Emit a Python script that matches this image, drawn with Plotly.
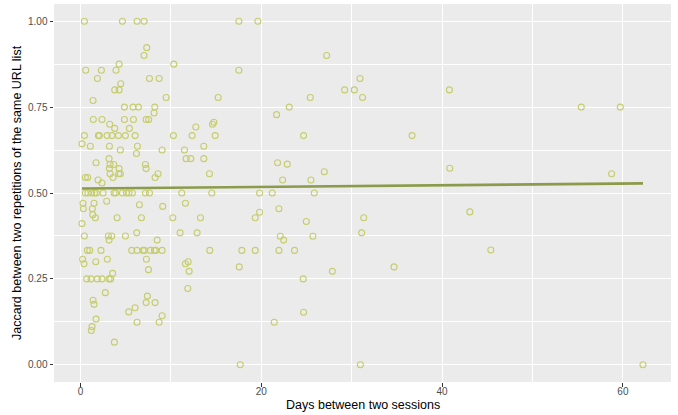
import plotly.graph_objects as go

# ---- data ----
days = [
    0.43, 4.64, 6.26, 7.04, 17.52,
    7.33, 7.03, 4.27, 10.32,
    0.58, 2.31, 3.93, 17.52,
    1.87, 7.63, 8.70, 4.45, 3.79, 4.27,
    9.47, 15.23, 1.39,
    4.86, 5.82, 6.41, 8.22, 8.14,
    1.42, 2.38, 4.86, 5.86, 7.26, 7.55, 3.23,
    14.75, 14.6, 12.76, 3.79, 5.41,
    0.43, 1.98, 2.09, 2.94, 3.49, 4.19, 4.97, 6.04, 10.28, 12.35, 14.9,
    0.17, 1.09, 3.2, 6.3, 13.64,
    4.41, 9.03, 11.5, 6.19,
    3.16, 11.69, 12.2, 13.64, 1.72,
    3.27, 3.67, 7.18, 3.2, 4.27, 7.26,
    3.27, 4.23, 4.41, 8.58, 14.27,
    0.54, 0.80, 3.6, 8.25, 1.94, 2.38,
    0.54, 0.83, 1.24, 1.54, 1.76, 2.5, 3.71, 3.9, 4.64, 5.08, 5.37, 5.74, 7.18, 7.63, 11.2, 14.53,
    0.28, 1.5, 11.61, 2.9, 6.52, 9.1, 0.32, 1.31, 1.35,
    1.65, 4.05, 6.74, 10.21, 13.27, 0.17,
    11.02, 12.9, 6.22, 0.43, 3.09, 3.46, 4.97, 3.16, 8.48,
    0.76, 1.02, 2.27, 5.67, 6.26, 6.93, 7.07, 7.74, 8.18, 8.33, 9.03, 14.3, 17.85,
    0.24, 2.97, 7.29, 1.69, 11.91, 11.61, 0.39, 17.56, 7.52, 12.02, 3.56,
    0.69, 1.17, 1.87, 2.38, 3.16, 3.34,
    11.87, 2.75, 7.4, 1.39, 7.26, 8.25, 1.5, 6.04, 5.34, 9.03, 1.72, 6.26, 8.7, 1.28, 1.2, 3.75, 17.67,
    19.62, 27.23, 30.92, 29.22, 30.29, 25.42, 31.2, 23.09, 21.69, 24.68, 36.68, 40.81,
    21.8, 22.87, 40.85, 26.97, 22.36, 25.49,
    19.81, 21.21, 25.86, 21.95, 19.81, 19.33, 31.33, 24.98, 31.1, 25.71, 22.1, 22.47,
    19.33, 21.95, 23.68, 34.68, 27.86, 24.64, 24.68, 21.43, 30.96,
    55.39, 59.71, 58.75, 43.07, 45.39, 62.22,
]
jaccard = [
    1.0, 1.0, 1.0, 1.0, 1.0,
    0.923, 0.9, 0.875, 0.875,
    0.857, 0.857, 0.857, 0.857,
    0.833, 0.833, 0.833, 0.818, 0.8, 0.8,
    0.778, 0.778, 0.769,
    0.75, 0.75, 0.75, 0.75, 0.733,
    0.714, 0.714, 0.714, 0.714, 0.714, 0.714, 0.7,
    0.706, 0.7, 0.692, 0.688, 0.688,
    0.667, 0.667, 0.667, 0.667, 0.667, 0.667, 0.667, 0.667, 0.667, 0.667, 0.667,
    0.643, 0.636, 0.636, 0.636, 0.636,
    0.625, 0.625, 0.625, 0.615,
    0.6, 0.6, 0.6, 0.6, 0.588,
    0.583, 0.583, 0.583, 0.571, 0.571, 0.571,
    0.556, 0.556, 0.556, 0.556, 0.556,
    0.545, 0.545, 0.545, 0.545, 0.538, 0.529,
    0.5, 0.5, 0.5, 0.5, 0.5, 0.5, 0.5, 0.5, 0.5, 0.5, 0.5, 0.5, 0.5, 0.5, 0.5, 0.5,
    0.47, 0.47, 0.47, 0.476, 0.466, 0.461, 0.454, 0.454, 0.437,
    0.428, 0.428, 0.428, 0.428, 0.428, 0.411,
    0.384, 0.384, 0.384, 0.375, 0.375, 0.375, 0.375, 0.363, 0.363,
    0.333, 0.333, 0.333, 0.333, 0.333, 0.333, 0.333, 0.333, 0.333, 0.333, 0.333, 0.333, 0.333,
    0.307, 0.307, 0.307, 0.3, 0.3, 0.294, 0.294, 0.285, 0.277, 0.272, 0.266,
    0.25, 0.25, 0.25, 0.25, 0.25, 0.25,
    0.222, 0.21, 0.2, 0.188, 0.181, 0.181, 0.176, 0.166, 0.154, 0.143, 0.133, 0.124, 0.124, 0.111, 0.1, 0.066, 0.0,
    1.0, 0.9, 0.833, 0.8, 0.8, 0.778, 0.778, 0.75, 0.728, 0.667, 0.667, 0.8,
    0.588, 0.584, 0.572, 0.562, 0.538, 0.538,
    0.5, 0.5, 0.5, 0.454, 0.444, 0.428, 0.428, 0.417, 0.384, 0.374, 0.374, 0.363,
    0.333, 0.333, 0.333, 0.285, 0.272, 0.25, 0.153, 0.124, 0.0,
    0.75, 0.75, 0.556, 0.445, 0.334, 0.0,
]

# linear fit line
fit_days = [0.17, 62.22]
fit_jaccard = [0.513, 0.528]

x_tickvals = [0, 20, 40, 60]
x_ticktext = ["0", "20", "40", "60"]
y_tickvals = [0.0, 0.25, 0.5, 0.75, 1.0]
y_ticktext = ["0.00", "0.25", "0.50", "0.75", "1.00"]

x_title = "Days between two sessions"
y_title = "Jaccard between two repetitions of the same URL list"

fig = go.Figure()
fig.add_trace(go.Scatter(
    x=days, y=jaccard, mode="markers",
    marker=dict(symbol="circle-open", size=6, color="#C6CD6C",
                line=dict(width=1.1, color="#C6CD6C")),
    showlegend=False, hoverinfo="x+y",
))
fig.add_trace(go.Scatter(
    x=fit_days, y=fit_jaccard, mode="lines",
    line=dict(color="#8B9B4A", width=2.6),
    showlegend=False,
))

font_family = "Liberation Sans, Arial, sans-serif"
axis_common = dict(
    showline=False, zeroline=False,
    gridcolor="white", gridwidth=1.1,
    ticks="outside", ticklen=3.5, tickwidth=1.1, tickcolor="#333333",
    tickfont=dict(family=font_family, size=10, color="#4D4D4D"),
)
fig.update_layout(
    width=678, height=415,
    margin=dict(l=54, r=7, t=4, b=33),
    paper_bgcolor="white", plot_bgcolor="#EBEBEB",
    xaxis=dict(range=[-2.93, 65.32], tickvals=x_tickvals, ticktext=x_ticktext,
               ticklabelstandoff=-4,
               minor=dict(dtick=10, tick0=0, showgrid=True, gridcolor="white",
                          gridwidth=0.55, ticks=""),
               **axis_common),
    yaxis=dict(range=[-0.05, 1.05], tickvals=y_tickvals, ticktext=y_ticktext,
               minor=dict(dtick=0.125, tick0=0, showgrid=True, gridcolor="white",
                          gridwidth=0.55, ticks=""),
               **axis_common),
    annotations=[
        dict(text=x_title, xref="paper", yref="paper", x=0.5, y=0,
             yshift=-32, yanchor="bottom", showarrow=False,
             font=dict(family=font_family, size=12.5, color="black")),
        dict(text=y_title, xref="paper", yref="paper", x=0, y=0.5,
             xshift=-28, xanchor="right", textangle=-90, showarrow=False,
             font=dict(family=font_family, size=12.5, color="black")),
    ],
)
fig.write_html("out.html")
